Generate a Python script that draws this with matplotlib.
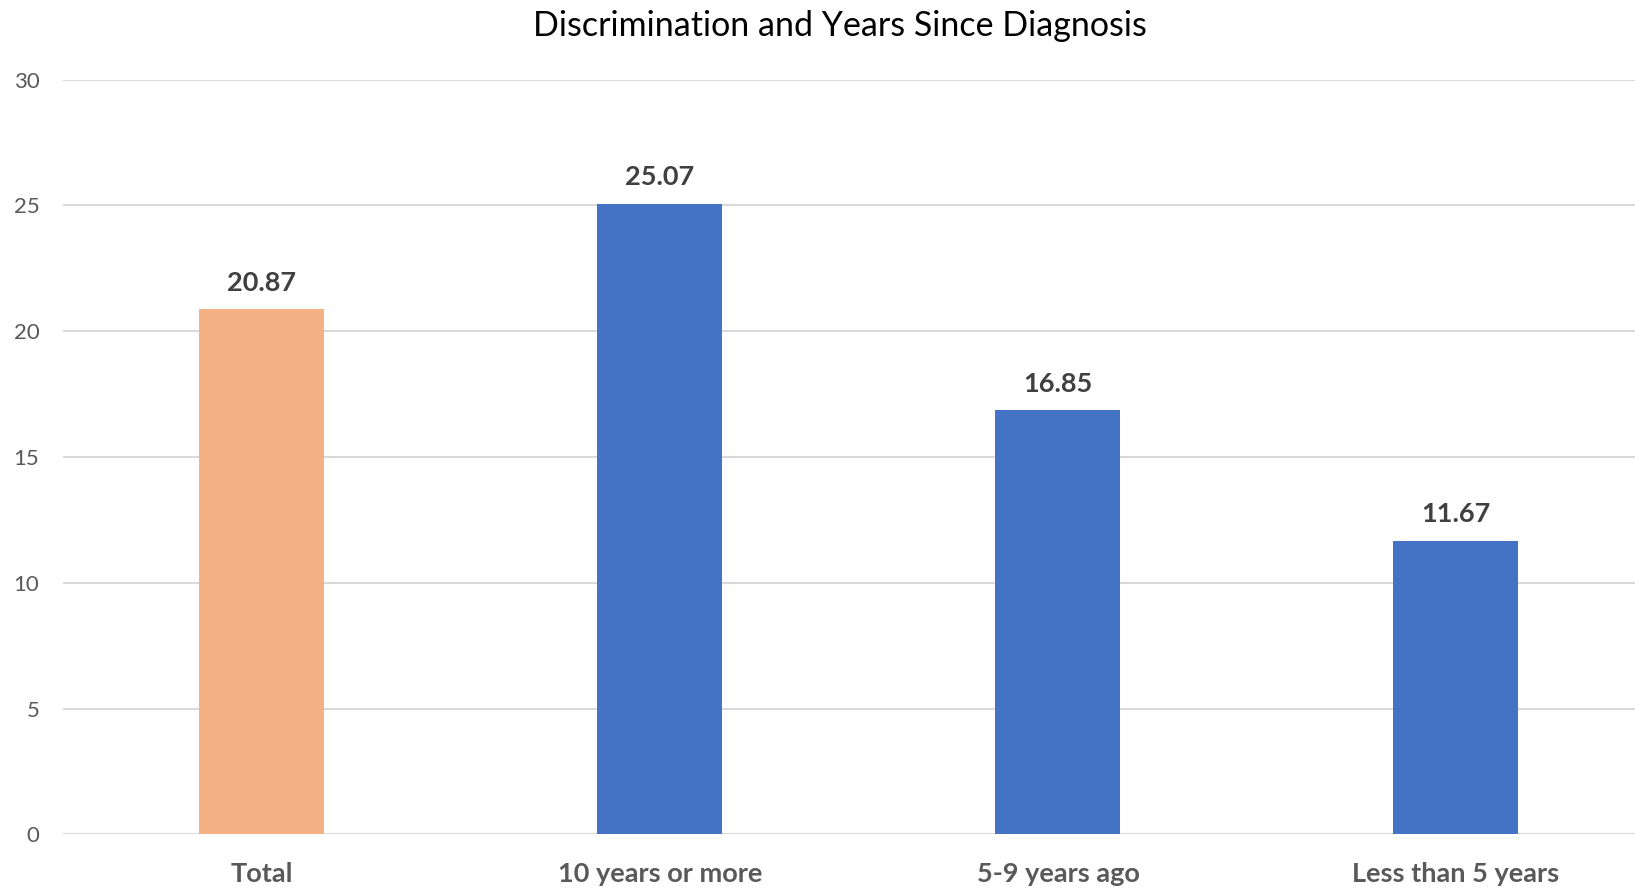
import matplotlib
matplotlib.use("Agg")
import matplotlib.pyplot as plt

categories = ["Total", "10 years or more", "5-9 years ago", "Less than 5 years"]
values = [20.87, 25.07, 16.85, 11.67]
bar_colors = ["#F4B183", "#4472C4", "#4472C4", "#4472C4"]
y_ticks = [0, 5, 10, 15, 20, 25, 30]

plt.rcParams["font.family"] = ["Lato", "DejaVu Sans"]

fig = plt.figure(figsize=(16.35, 8.88), dpi=100)
ax = fig.add_axes([0.0385, 0.0605, 0.9737, 0.8497])

x = range(len(categories))
bars = ax.bar(x, values, width=0.314, color=bar_colors, zorder=3)

for rect, v in zip(bars, values):
    ax.annotate(f"{v:.2f}", (rect.get_x() + rect.get_width() / 2, v),
                xytext=(0, 19), textcoords="offset points",
                ha="center", va="center", fontsize=19.5, fontweight="bold",
                color="#404040")

ax.set_xlim(-0.5, len(categories) - 0.5)
ax.set_ylim(0, 30)
ax.set_yticks(y_ticks)
ax.set_xticks(list(x))
ax.set_xticklabels(categories, fontsize=19.5, fontweight="bold", color="#595959")
ax.tick_params(axis="x", length=0, pad=20)
ax.tick_params(axis="y", length=0, pad=17, labelsize=16, labelcolor="#595959")

ax.grid(axis="y", color="#D9D9D9", linewidth=1.5, zorder=0)
for side in ax.spines.values():
    side.set_visible(False)

fig.text(0.514, 0.971, "Discrimination and Years Since Diagnosis",
         ha="center", va="center", fontsize=24.5, color="#000000")

fig.savefig("out.png", dpi=100, facecolor="white")
